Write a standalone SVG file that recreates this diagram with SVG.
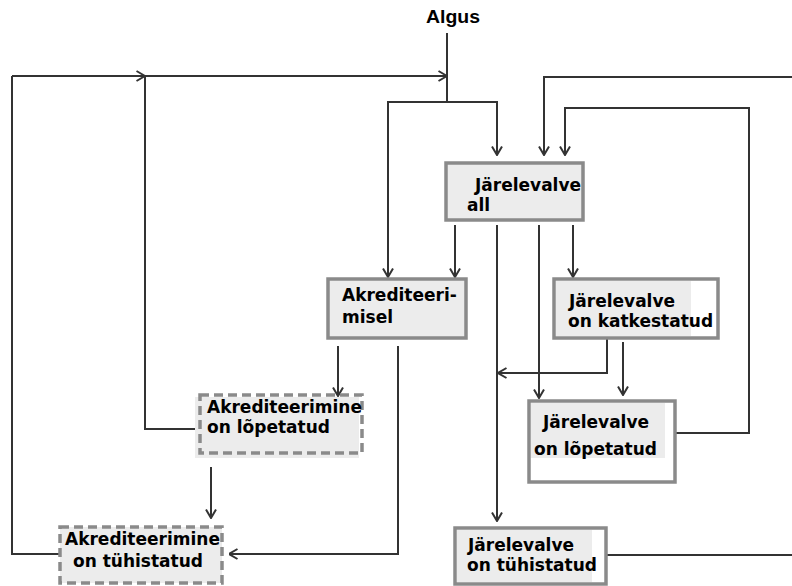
<svg xmlns="http://www.w3.org/2000/svg" width="792" height="586" viewBox="0 0 792 586">
<defs>
<marker id="arr" viewBox="0 0 10 12" refX="9.5" refY="6" markerWidth="10" markerHeight="12" markerUnits="userSpaceOnUse" orient="auto">
<path d="M1,1 L9.5,6 L1,11" fill="none" stroke="#333" stroke-width="2"/>
</marker>
<style>
.c{fill:none;stroke:#333;stroke-width:2}
.ca{fill:none;stroke:#333;stroke-width:2;marker-end:url(#arr)}
.box{fill:#ececec;stroke:#8a8a8a;stroke-width:3.5}
.wbox{fill:#fff;stroke:#8a8a8a;stroke-width:3.5}
.dbox{fill:none;stroke:#8a8a8a;stroke-width:3.5;stroke-dasharray:9 5}
.hl{fill:#ececec}
.t{font-family:"DejaVu Sans",Verdana,sans-serif;font-weight:bold;font-size:17px;fill:#000}
.st{font-family:"Liberation Sans",Arial,sans-serif;font-weight:bold;font-size:18px;fill:#000}
</style>
</defs>
<g id="connectors">
<path class="c" d="M447,33 L447,102"/>
<path class="ca" d="M447,102 L388,102 L388,277"/>
<path class="ca" d="M447,102 L497,102 L497,155"/>
<path class="c" d="M60,554 L12,554 L12,76"/>
<path class="ca" d="M12,76 L145,76"/>
<path class="ca" d="M145,76 L447,76"/>
<path class="c" d="M195,429 L145,429 L145,76"/>
<path class="ca" d="M792,77 L544,77 L544,155"/>
<path class="ca" d="M671,433 L749,433 L749,108 L565,108 L565,155"/>
<path class="ca" d="M455,225 L455,277"/>
<path class="ca" d="M497,225 L497,521"/>
<path class="ca" d="M539,225 L539,398"/>
<path class="ca" d="M573,225 L573,277"/>
<path class="ca" d="M338,346 L338,396"/>
<path class="ca" d="M398,346 L398,554 L229,554"/>
<path class="ca" d="M607,339 L607,373 L498,373"/>
<path class="ca" d="M623,342 L623,395"/>
<path class="ca" d="M211,467 L211,518"/>
<path class="c" d="M592,555 L792,555"/>
</g>
<g id="algus">
<text class="st" x="426" y="23" textLength="54" lengthAdjust="spacingAndGlyphs">Algus</text>
</g>
<g id="jarelevalve-all">
<rect class="box" x="446" y="163" width="137" height="57"/>
<text class="t" x="475" y="191">Järelevalve</text>
<text class="t" x="467" y="211">all</text>
</g>
<g id="akrediteerimisel">
<rect class="box" x="328" y="279" width="138" height="59"/>
<text class="t" x="342" y="301">Akrediteeri-</text>
<text class="t" x="342" y="323">misel</text>
</g>
<g id="jarelevalve-katkestatud">
<rect class="wbox" x="554" y="279" width="164" height="59"/>
<rect class="hl" x="556" y="281" width="135" height="55"/>
<text class="t" x="569" y="307">Järelevalve</text>
<text class="t" x="568" y="327">on katkestatud</text>
</g>
<g id="jarelevalve-lopetatud">
<rect class="wbox" x="529" y="401" width="146" height="81"/>
<rect class="hl" x="531" y="403" width="134" height="55"/>
<text class="t" x="543" y="428">Järelevalve</text>
<text class="t" x="534" y="455">on lõpetatud</text>
</g>
<g id="akrediteerimine-lopetatud">
<rect class="hl" x="195" y="397" width="164" height="61"/>
<rect class="dbox" x="200" y="395" width="162" height="58"/>
<text class="t" x="207" y="413">Akrediteerimine</text>
<text class="t" x="207" y="433">on lõpetatud</text>
</g>
<g id="akrediteerimine-tuhistatud">
<rect class="hl" x="60" y="527" width="162" height="56"/>
<rect class="dbox" x="60" y="527" width="162" height="56"/>
<text class="t" x="65" y="545">Akrediteerimine</text>
<text class="t" x="73" y="567">on tühistatud</text>
</g>
<g id="jarelevalve-tuhistatud">
<rect class="wbox" x="455" y="528" width="151" height="56"/>
<rect class="hl" x="457" y="530" width="135" height="52"/>
<text class="t" x="468" y="551">Järelevalve</text>
<text class="t" x="467" y="571">on tühistatud</text>
</g>
</svg>
